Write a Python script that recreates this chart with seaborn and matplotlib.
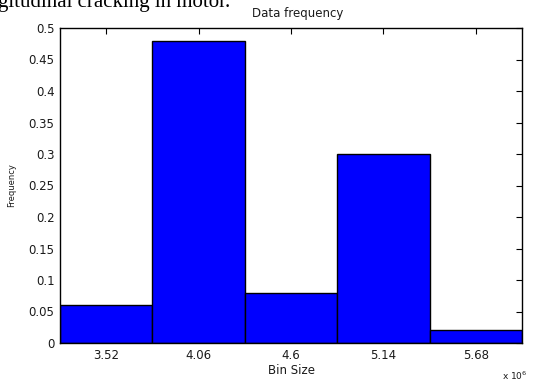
import matplotlib
matplotlib.use("Agg")
import matplotlib.pyplot as plt
import seaborn as sns
import numpy as np

# ---- data ----
bin_centers = [3.52, 4.06, 4.6, 5.14, 5.68]          # x 10^6
frequencies = [0.06, 0.48, 0.08, 0.30, 0.02]
x_tick_labels = ["3.52", "4.06", "4.6", "5.14", "5.68"]
y_ticks = [0, 0.05, 0.1, 0.15, 0.2, 0.25, 0.3, 0.35, 0.4, 0.45, 0.5]
y_tick_labels = ["0", "0.05", "0.1", "0.15", "0.2", "0.25", "0.3", "0.35", "0.4", "0.45", "0.5"]
title = "Data frequency"
x_label = "Bin Size"
y_label = "Frequency"
multiplier = r"x 10$^{6}$"
caption = "gitudinal cracking in motor."

sns.set_style("white")
plt.rcParams['font.family'] = ['DejaVu Sans']
txt = "#1a1a1a"

fig = plt.figure(figsize=(5.39, 3.83), dpi=100)
ax = fig.add_axes([60/539, 1-343/383, (522-60)/539, (343-28)/383])

width = bin_centers[1] - bin_centers[0]
lo = bin_centers[0] - width/2
hi = bin_centers[-1] + width/2
sns.histplot(x=bin_centers, weights=frequencies, bins=len(bin_centers),
             binrange=(lo, hi), color="#0000ff", alpha=1.0,
             edgecolor="black", linewidth=1.0, ax=ax)

ax.set_xlim(lo, hi)
ax.set_ylim(0, 0.5)
ax.set_xticks(bin_centers)
ax.set_xticklabels(x_tick_labels)
ax.set_yticks(y_ticks)
ax.set_yticklabels(y_tick_labels)

for s in ax.spines.values():
    s.set_visible(True)
    s.set_color("black")
    s.set_linewidth(1.0)

ax.tick_params(direction="in", length=4, width=0.8, top=True, right=True,
               labelsize=8.5, colors="black", labelcolor=txt, pad=4)

ax.set_title(title, fontsize=8.5, color=txt, pad=8, x=0.515)
ax.set_xlabel(x_label, fontsize=8.5, color=txt, labelpad=2)
ax.set_ylabel(y_label, fontsize=6, color=txt, labelpad=9)

fig.text(515/539, 1-376/383, multiplier, fontsize=6.5, color=txt,
         ha="center", va="center")
fig.text(-2/539, 1-6.5/383, caption, fontsize=15, family="Liberation Serif",
         color="black", ha="left", va="baseline")

fig.savefig("out.png", dpi=100)
